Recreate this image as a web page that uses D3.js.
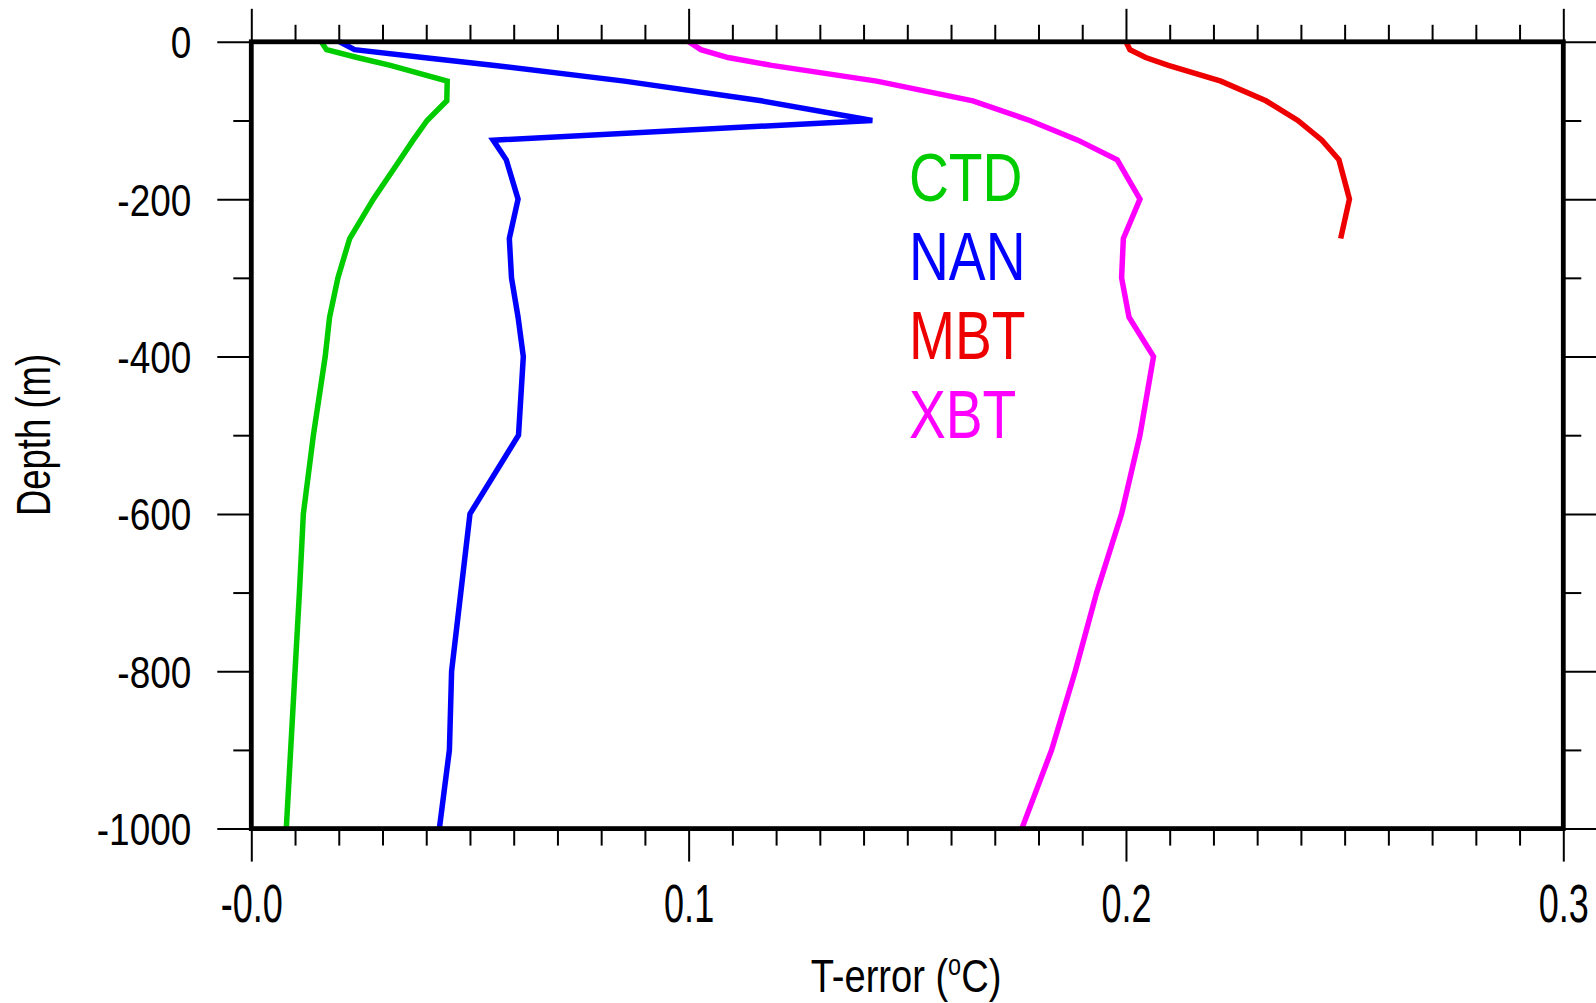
<!DOCTYPE html>
<html>
<head>
<meta charset="utf-8">
<script src="https://cdn.jsdelivr.net/npm/d3@7"></script>
<style>
  html, body { margin: 0; padding: 0; background: #fff; }
  svg { display: block; }
  text { font-family: "Liberation Sans", Arial, Helvetica, sans-serif; fill: #000; }
</style>
</head>
<body>
<svg id="chart" width="1596" height="1003"></svg>
<script>
// ---- data ----
const depths = [0, -10, -20, -30, -50, -75, -100, -125, -150, -200, -250, -300, -350, -400, -500, -600, -700, -800, -900, -1000];
const ctd = [0.0160, 0.0172, 0.0242, 0.0318, 0.0448, 0.0447, 0.0402, 0.0370, 0.0340, 0.0279, 0.0225, 0.0198, 0.0179, 0.0169, 0.0142, 0.0119, 0.0110, 0.0100, 0.0090, 0.0080];
const nan = [0.0202, 0.0236, 0.0393, 0.0557, 0.0853, 0.1166, 0.1420, 0.0553, 0.0583, 0.0610, 0.0590, 0.0595, 0.0610, 0.0622, 0.0611, 0.0500, 0.0479, 0.0458, 0.0453, 0.0430];
const mbt = [0.2000, 0.2009, 0.2045, 0.2097, 0.2217, 0.2320, 0.2393, 0.2448, 0.2487, 0.2511, 0.2491];
const xbt = [0.1000, 0.1028, 0.1090, 0.1190, 0.1430, 0.1650, 0.1780, 0.1890, 0.1980, 0.2032, 0.1994, 0.1990, 0.2007, 0.2063, 0.2032, 0.1990, 0.1933, 0.1884, 0.1830, 0.1762];

const seriesNames = ["CTD", "NAN", "MBT", "XBT"];
const seriesColors = ["#00cc00", "#0000ff", "#ee0000", "#ff00ff"];
const seriesValues = [ctd, nan, mbt, xbt];

const xMajorTicks = [0, 0.1, 0.2, 0.3];
const xTickLabels = ["-0.0", "0.1", "0.2", "0.3"];
const yMajorTicks = [0, -200, -400, -600, -800, -1000];
const yTickLabels = ["0", "-200", "-400", "-600", "-800", "-1000"];
const xTitle = "T-error (";
const xTitleSup = "o";
const xTitleEnd = "C)";
const yTitle = "Depth (m)";

// ---- layout ----
const L = 251.3, R = 1563.3, T = 41.8, B = 828.6;
const svg = d3.select("#chart");
const x = d3.scaleLinear().domain([0, 0.3]).range([L, R]);
const y = d3.scaleLinear().domain([-1000, 0]).range([B, T]);

const xMinor = d3.range(0, 31).map(i => i / 100).filter(v => Math.abs(v * 10 - Math.round(v * 10)) > 1e-6);
const yMinor = d3.range(-900, 0, 200);

function styleAxis(g) {
  g.select(".domain").remove();
  g.selectAll(".tick line").attr("stroke", "#000").attr("stroke-width", 2);
}

// bottom
svg.append("g").attr("transform", `translate(0,${B})`)
  .call(d3.axisBottom(x).tickValues(xMinor).tickSize(17).tickFormat(""))
  .call(styleAxis);
const gb = svg.append("g").attr("transform", `translate(0,${B})`)
  .call(d3.axisBottom(x).tickValues(xMajorTicks).tickSize(33).tickFormat((d, i) => xTickLabels[i]))
  .call(styleAxis);
gb.selectAll(".tick text")
  .attr("y", 93).attr("dy", 0)
  .attr("font-size", 53)
  .attr("transform", "scale(0.68,1)")
  .style("font-family", "'Liberation Sans', Arial, sans-serif")
  .attr("fill", "#000");

// top
svg.append("g").attr("transform", `translate(0,${T})`)
  .call(d3.axisTop(x).tickValues(xMinor).tickSize(17).tickFormat(""))
  .call(styleAxis);
svg.append("g").attr("transform", `translate(0,${T})`)
  .call(d3.axisTop(x).tickValues(xMajorTicks).tickSize(33).tickFormat(""))
  .call(styleAxis);

// left
svg.append("g").attr("transform", `translate(${L},0)`)
  .call(d3.axisLeft(y).tickValues(yMinor).tickSize(18).tickFormat(""))
  .call(styleAxis);
const gl = svg.append("g").attr("transform", `translate(${L},0)`)
  .call(d3.axisLeft(y).tickValues(yMajorTicks).tickSize(34).tickFormat((d, i) => yTickLabels[i]))
  .call(styleAxis);
gl.selectAll(".tick text")
  .attr("x", 0).attr("dy", "0.36em")
  .attr("font-size", 44)
  .attr("transform", "translate(-60,0) scale(0.84,1)")
  .style("font-family", "'Liberation Sans', Arial, sans-serif")
  .attr("fill", "#000");

// right
svg.append("g").attr("transform", `translate(${R},0)`)
  .call(d3.axisRight(y).tickValues(yMinor).tickSize(18).tickFormat(""))
  .call(styleAxis);
svg.append("g").attr("transform", `translate(${R},0)`)
  .call(d3.axisRight(y).tickValues(yMajorTicks).tickSize(34).tickFormat(""))
  .call(styleAxis);

// series lines
const line = d3.line().x(d => x(d.v)).y(d => y(d.d));
seriesValues.forEach((vals, si) => {
  const pts = vals.map((v, i) => ({ v: v, d: depths[i] }));
  svg.append("path")
    .attr("d", line(pts))
    .attr("fill", "none")
    .attr("stroke", seriesColors[si])
    .attr("stroke-width", 5.5)
    .attr("stroke-linejoin", "miter")
    .attr("stroke-miterlimit", 4);
});

// frame
svg.append("rect")
  .attr("x", L).attr("y", T).attr("width", R - L).attr("height", B - T)
  .attr("fill", "none").attr("stroke", "#000").attr("stroke-width", 4.8);

// legend text
const legBase = [200.5, 280, 359, 438];
seriesNames.forEach((n, i) => {
  svg.append("text")
    .attr("transform", `translate(909,${legBase[i]}) scale(0.80,1)`)
    .attr("font-size", 69)
    .attr("fill", seriesColors[i])
    .style("fill", seriesColors[i])
    .text(n);
});

// x title
const xt = svg.append("text")
  .attr("transform", "translate(906,992) scale(0.81,1)")
  .attr("text-anchor", "middle")
  .attr("font-size", 47);
xt.append("tspan").text(xTitle);
xt.append("tspan").attr("font-size", 29).attr("dy", -17).text(xTitleSup);
xt.append("tspan").attr("font-size", 47).attr("dy", 17).text(xTitleEnd);

// y title
svg.append("text")
  .attr("transform", "translate(50,435) rotate(-90) scale(0.76,1)")
  .attr("text-anchor", "middle")
  .attr("font-size", 48)
  .text(yTitle);
</script>
</body>
</html>
